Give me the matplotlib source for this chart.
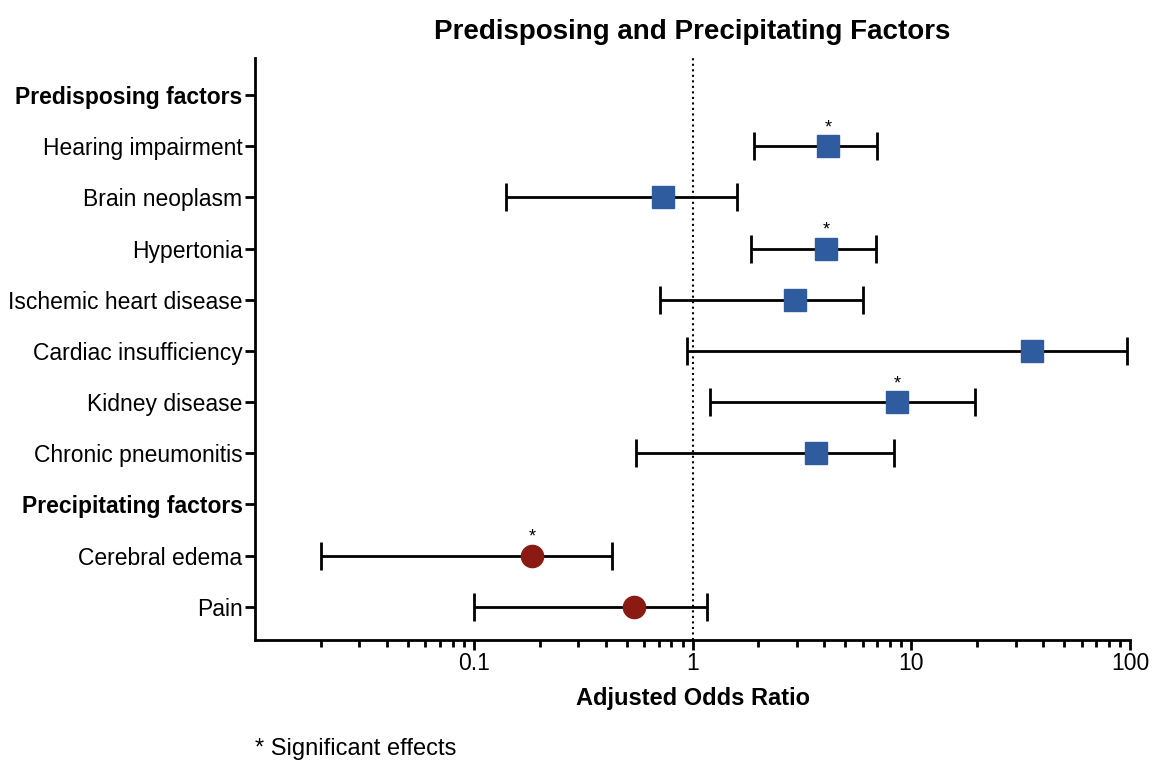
import numpy as np
import matplotlib.pyplot as plt
from matplotlib.ticker import LogLocator, FixedLocator, NullFormatter

plt.rcParams['font.family'] = ['Liberation Sans', 'DejaVu Sans']

labels = ['Predisposing factors', 'Hearing impairment', 'Brain neoplasm', 'Hypertonia',
          'Ischemic heart disease', 'Cardiac insufficiency', 'Kidney disease',
          'Chronic pneumonitis', 'Precipitating factors', 'Cerebral edema', 'Pain']
header_rows = [0, 8]

# predisposing factors (rows 1-7)
pre_rows = [1, 2, 3, 4, 5, 6, 7]
pre_or = [4.18, 0.73, 4.09, 2.95, 35.7, 8.6, 3.68]
pre_lo = [1.9, 0.14, 1.84, 0.71, 0.94, 1.2, 0.55]
pre_hi = [7.0, 1.59, 6.9, 6.0, 97.0, 19.6, 8.3]
pre_sig = [True, False, True, False, False, True, False]

# precipitating factors (rows 9-10)
prec_rows = [9, 10]
prec_or = [0.184, 0.54]
prec_lo = [0.02, 0.1]
prec_hi = [0.43, 1.17]
prec_sig = [True, False]

fig = plt.figure(figsize=(11.52, 7.66), dpi=100)
ax = fig.add_axes([0.2214, 0.1645, 0.7596, 0.7595])


def draw(rows, orr, lo, hi, sig, marker, color):
    orr = np.array(orr)
    err = np.vstack([orr - np.array(lo), np.array(hi) - orr])
    ax.errorbar(orr, rows, xerr=err, fmt='none', ecolor='black', elinewidth=2,
                capsize=10, capthick=2, zorder=2)
    ax.plot(orr, rows, linestyle='none', marker=marker, markersize=16,
            color=color, zorder=3)
    for x, y, s in zip(orr, rows, sig):
        if s:
            ax.text(x, y - 0.36, '*', ha='center', va='center', fontsize=13)


draw(pre_rows, pre_or, pre_lo, pre_hi, pre_sig, 's', '#2f5c9f')
draw(prec_rows, prec_or, prec_lo, prec_hi, prec_sig, 'o', '#8b1a14')

ax.axvline(1, color='black', linestyle=':', linewidth=1.5, zorder=1)

ax.set_xscale('log')
ax.set_xlim(0.01, 100)
ax.set_ylim(10.65, -0.72)
ax.xaxis.set_major_locator(FixedLocator([0.1, 1, 10, 100]))
ax.set_xticklabels(['0.1', '1', '10', '100'])
ax.xaxis.set_minor_locator(LogLocator(base=10, subs=np.arange(2, 10)))
ax.xaxis.set_minor_formatter(NullFormatter())
ax.tick_params(axis='x', which='major', length=7, width=2, labelsize=16.5, pad=2)
ax.tick_params(axis='x', which='minor', length=5, width=2)

ax.set_yticks(range(len(labels)))
ax.set_yticklabels(labels)
ax.tick_params(axis='y', length=7, width=2, labelsize=16.5, pad=2)
for i in header_rows:
    ax.get_yticklabels()[i].set_fontweight('bold')

for side in ['top', 'right']:
    ax.spines[side].set_visible(False)
for side in ['left', 'bottom']:
    ax.spines[side].set_linewidth(2)

ax.set_xlabel('Adjusted Odds Ratio', fontsize=17, fontweight='bold', labelpad=8)
ax.set_title('Predisposing and Precipitating Factors', fontsize=20, fontweight='bold', pad=14)

fig.text(0.2214, 0.008, '* Significant effects', fontsize=17, ha='left', va='bottom')

fig.savefig('out.png', dpi=100)
